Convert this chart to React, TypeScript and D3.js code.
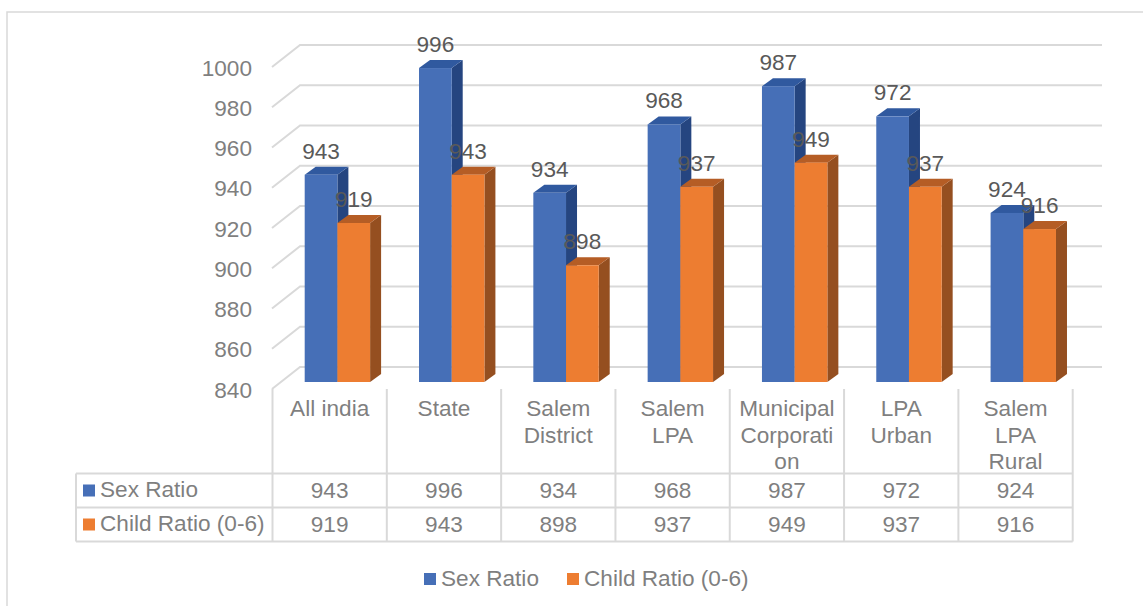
import React from "react";
import * as d3 from "d3";

const categories = ["All india", "State", "Salem District", "Salem LPA", "Municipal Corporation", "LPA Urban", "Salem LPA Rural"];
const categoryLines = [
  ["All india"],
  ["State"],
  ["Salem", "District"],
  ["Salem", "LPA"],
  ["Municipal", "Corporati", "on"],
  ["LPA", "Urban"],
  ["Salem", "LPA", "Rural"],
];
const sexRatio = [943, 996, 934, 968, 987, 972, 924];
const childRatio = [919, 943, 898, 937, 949, 937, 916];
const yTicks = [840, 860, 880, 900, 920, 940, 960, 980, 1000];
const seriesNames = ["Sex Ratio", "Child Ratio (0-6)"];

const width = 1143;
const height = 606;
const font = "'Liberation Sans', Arial, sans-serif";
const fontSize = 22.6;
const grey = "#7f7f7f";
const lineColor = "#d9d9d9";

// front face colour, top face, side face
const palette = [
  { front: "#466fb7", top: "#30599f", side: "#254580" },
  { front: "#ed7d31", top: "#b55d25", side: "#954f20" },
];

export default function App() {
  const series = [sexRatio, childRatio];

  const x = d3.scaleBand<string>().domain(categories).range([272.5, 1072.7]);
  const yFront = d3.scaleLinear().domain([840, 1000]).range([389, 67]);
  const yWall = d3.scaleLinear().domain([840, 1000]).range([367, 45]);
  const yBar = d3.scaleLinear().domain([840, 1000]).range([382, 60]);
  const inner = d3.scaleBand<number>().domain([0, 1]).range([32.2, 97.6]);

  const depthX = 11;
  const depthY = 8;
  const bw = inner.bandwidth();
  const line = d3.line();
  const face = (pts: [number, number][]) => line(pts) + "Z";

  const tableLeft = 76;
  const rowY = [473.5, 507.5, 541.5];
  const colX = [...categories.map((c) => x(c)!), x.range()[1]];

  return (
    <svg
      width={width}
      height={height}
      viewBox={`0 0 ${width} ${height}`}
      style={{ position: "absolute", left: 0, top: 0, background: "#fff" }}
      fontFamily={font}
      fontSize={fontSize}
    >
      {/* chart frame, cut by the image edge */}
      <path d={`M7 ${height}V12H${width}`} fill="none" stroke={lineColor} strokeWidth={1.5} />

      {/* walls */}
      {yTicks.map((t) => (
        <g key={t}>
          <path
            d={`M272 ${yFront(t)}L300 ${yWall(t)}H1102`}
            fill="none"
            stroke={lineColor}
            strokeWidth={2}
          />
          <text x={252} y={yFront(t) + 8.5} textAnchor="end" fill={grey}>
            {t}
          </text>
        </g>
      ))}

      {/* bars */}
      {categories.map((c, i) =>
        series.map((s, k) => {
          const x0 = x(c)! + inner(k)!;
          const x1 = x0 + bw;
          const yt = yBar(s[i]);
          const yb = yBar(840);
          return (
            <g key={c + k}>
              <path
                d={face([[x1, yt], [x1 + depthX, yt - depthY], [x1 + depthX, yb - depthY], [x1, yb]])}
                fill={palette[k].side}
              />
              <path
                d={face([[x0, yt], [x0 + depthX, yt - depthY], [x1 + depthX, yt - depthY], [x1, yt]])}
                fill={palette[k].top}
              />
              <rect x={x0} y={yt} width={bw} height={yb - yt} fill={palette[k].front} />
            </g>
          );
        })
      )}

      {/* data labels go over all the bars */}
      {categories.map((c, i) =>
        series.map((s, k) => (
          <text
            key={c + k}
            x={x(c)! + inner(k)! + bw / 2}
            y={yBar(s[i]) - 16}
            textAnchor="middle"
            fill="#595959"
          >
            {s[i]}
          </text>
        ))
      )}

      {/* data table */}
      <g stroke={lineColor} strokeWidth={2} fill="none">
        {rowY.map((y) => (
          <path key={y} d={`M${tableLeft} ${y}H${colX[colX.length - 1]}`} />
        ))}
        <path d={`M${tableLeft} ${rowY[0]}V${rowY[2]}`} />
        {colX.map((cx) => (
          <path key={cx} d={`M${cx} 389V${rowY[2]}`} />
        ))}
      </g>

      {categories.map((c, i) => (
        <text key={c} textAnchor="middle" fill={grey}>
          {categoryLines[i].map((l, j) => (
            <tspan key={l} x={x(c)! + x.bandwidth() / 2} y={416 + j * 26.5}>
              {l}
            </tspan>
          ))}
        </text>
      ))}

      {series.map((s, k) => (
        <g key={k}>
          <rect x={83} y={484.5 + k * 34} width={12} height={12} fill={palette[k].front} />
          <text x={100} y={497 + k * 34} fill={grey}>
            {seriesNames[k]}
          </text>
          {categories.map((c, i) => (
            <text
              key={c}
              x={x(c)! + x.bandwidth() / 2}
              y={498 + k * 34}
              textAnchor="middle"
              fill={grey}
            >
              {s[i]}
            </text>
          ))}
        </g>
      ))}

      {/* legend */}
      <rect x={424} y={573} width={12} height={12} fill={palette[0].front} />
      <text x={441} y={586} fill={grey}>
        {seriesNames[0]}
      </text>
      <rect x={567} y={573} width={12} height={12} fill={palette[1].front} />
      <text x={584} y={586} fill={grey}>
        {seriesNames[1]}
      </text>
    </svg>
  );
}
